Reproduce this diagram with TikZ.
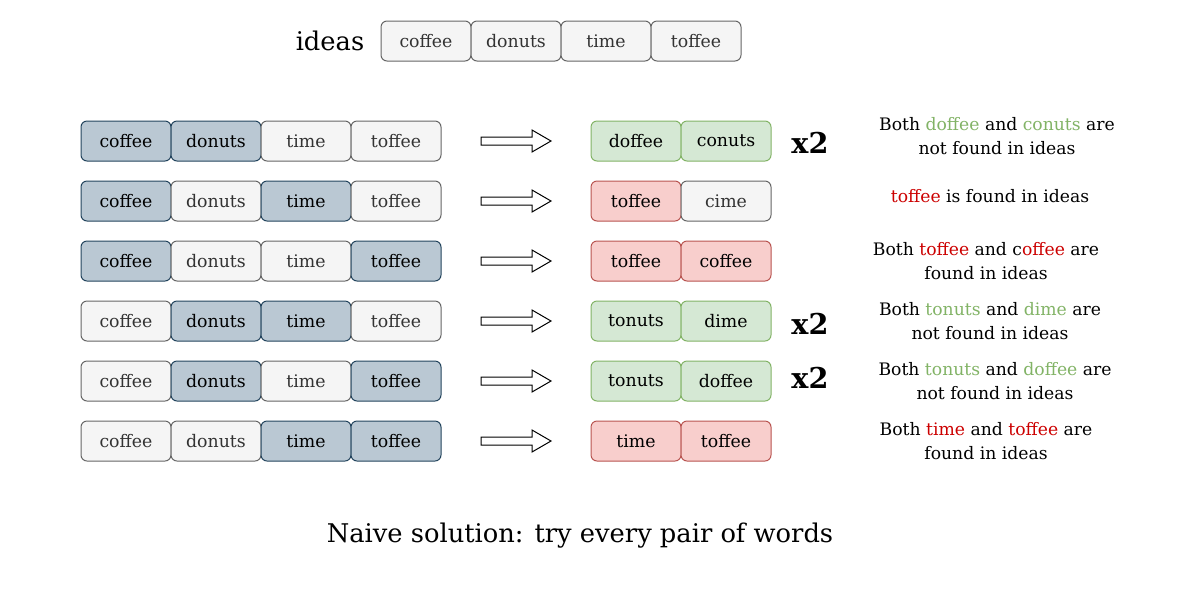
\documentclass[tikz,border=0pt]{standalone}
\usepackage{fontspec}
\setmainfont{DejaVu Serif}
\definecolor{gfill}{HTML}{F5F5F5}
\definecolor{gline}{HTML}{666666}
\definecolor{gtext}{HTML}{333333}
\definecolor{bfill}{HTML}{BAC8D3}
\definecolor{bline}{HTML}{23445D}
\definecolor{grfill}{HTML}{D5E8D4}
\definecolor{grline}{HTML}{82B366}
\definecolor{rfill}{HTML}{F8CECC}
\definecolor{rline}{HTML}{B85450}
\definecolor{redtxt}{HTML}{CC0000}
\newcommand{\gw}[1]{\textcolor{grline}{#1}}
\newcommand{\rw}[1]{\textcolor{redtxt}{#1}}
\begin{document}
\begin{tikzpicture}[x=0.75pt,y=-0.75pt,
  cell/.style={draw, rounded corners=4.5pt, minimum width=67.5pt, minimum height=30pt, inner sep=0pt, line width=0.75pt, font=\fontsize{13}{15}\selectfont},
  plain/.style={cell, fill=gfill, draw=gline, text=gtext},
  sel/.style={cell, fill=bfill, draw=bline, text=black},
  good/.style={cell, fill=grfill, draw=grline, text=black},
  bad/.style={cell, fill=rfill, draw=rline, text=black},
  note/.style={align=center, font=\fontsize{12.9}{18}\selectfont, inner sep=0pt},
  times/.style={font=\fontsize{21.5}{22}\selectfont\bfseries, inner sep=0pt},
  bigarrow/.style={draw=black, fill=white, line width=0.75pt}]
\useasboundingbox (0,0) rectangle (1201,601);

\node[font=\fontsize{19.3}{22}\selectfont, inner sep=0pt] (ideas) at (330,41) {ideas};
\node[plain] (i1) at (426,41) {coffee};
\node[plain] (i2) at (516,41) {donuts};
\node[plain] (i3) at (606,41) {time};
\node[plain] (i4) at (696,41) {toffee};

% row 1
\node[sel]   (a1) at (126,141) {coffee};
\node[sel]   (a2) at (216,141) {donuts};
\node[plain] (a3) at (306,141) {time};
\node[plain] (a4) at (396,141) {toffee};
\node[good]  (ar1) at (636,141) {doffee};
\node[good]  (ar2) at (726,141) {conuts};
\node[times] (ax) at (810,143) {x2};
\node[note]  (at) at (997,136) {Both \gw{doffee} and \gw{conuts} are\\not found in ideas};

% row 2
\node[sel]   (b1) at (126,201) {coffee};
\node[plain] (b2) at (216,201) {donuts};
\node[sel]   (b3) at (306,201) {time};
\node[plain] (b4) at (396,201) {toffee};
\node[bad]   (br1) at (636,201) {toffee};
\node[plain] (br2) at (726,201) {cime};
\node[note]  (bt) at (990,196) {\rw{toffee} is found in ideas};

% row 3
\node[sel]   (c1) at (126,261) {coffee};
\node[plain] (c2) at (216,261) {donuts};
\node[plain] (c3) at (306,261) {time};
\node[sel]   (c4) at (396,261) {toffee};
\node[bad]   (cr1) at (636,261) {toffee};
\node[bad]   (cr2) at (726,261) {coffee};
\node[note]  (ct) at (986,261) {Both \rw{toffee} and c\rw{offee} are\\found in ideas};

% row 4
\node[plain] (d1) at (126,321) {coffee};
\node[sel]   (d2) at (216,321) {donuts};
\node[sel]   (d3) at (306,321) {time};
\node[plain] (d4) at (396,321) {toffee};
\node[good]  (dr1) at (636,321) {tonuts};
\node[good]  (dr2) at (726,321) {dime};
\node[times] (dx) at (810,324) {x2};
\node[note]  (dt) at (990,321) {Both \gw{tonuts} and \gw{dime} are\\not found in ideas};

% row 5
\node[plain] (e1) at (126,381) {coffee};
\node[sel]   (e2) at (216,381) {donuts};
\node[plain] (e3) at (306,381) {time};
\node[sel]   (e4) at (396,381) {toffee};
\node[good]  (er1) at (636,381) {tonuts};
\node[good]  (er2) at (726,381) {doffee};
\node[times] (ex) at (810,378) {x2};
\node[note]  (et) at (995,381) {Both \gw{tonuts} and \gw{doffee} are\\not found in ideas};

% row 6
\node[plain] (f1) at (126,441) {coffee};
\node[plain] (f2) at (216,441) {donuts};
\node[sel]   (f3) at (306,441) {time};
\node[sel]   (f4) at (396,441) {toffee};
\node[bad]   (fr1) at (636,441) {time};
\node[bad]   (fr2) at (726,441) {toffee};
\node[note]  (ft) at (986,441) {Both \rw{time} and \rw{toffee} are\\found in ideas};

% block arrows
\foreach \y in {141,201,261,321,381,441}{
  \draw[bigarrow] (481,\y-4) -- (532,\y-4) -- (532,\y-11) -- (551,\y) -- (532,\y+11) -- (532,\y+4) -- (481,\y+4) -- cycle;
}

\node[font=\fontsize{19.3}{22}\selectfont, inner sep=0pt] (caption) at (580,536) {Naive solution: try every pair of words};
\end{tikzpicture}
\end{document}
